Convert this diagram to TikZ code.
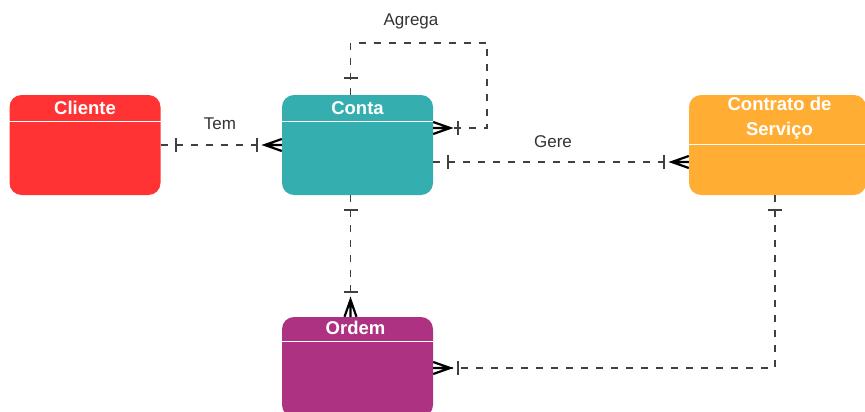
\documentclass[tikz,border=0pt]{standalone}
\usepackage{fontspec}
\setmainfont{Liberation Sans}
\usetikzlibrary{calc}
\definecolor{cred}{HTML}{FF3333}
\definecolor{cteal}{HTML}{35AEB0}
\definecolor{corange}{HTML}{FFAD33}
\definecolor{cpurple}{HTML}{AD3382}
\definecolor{linegray}{HTML}{404040}
\definecolor{labelgray}{HTML}{333333}
\tikzset{
  entity/.style={rounded corners=12pt, inner sep=0pt, draw=none, minimum width=151pt, minimum height=100pt},
  ttl/.style={text=white, font=\bfseries\fontsize{18.5}{25}\selectfont, inner sep=0pt, align=center},
  hdr/.style={draw=white, line width=1pt},
  rel/.style={draw=linegray, line width=1.8pt, dash pattern=on 7pt off 8pt},
  barmk/.style={draw=linegray, line width=1.8pt},
  crow/.style={draw=black, line width=2.2pt, line join=miter},
  lbl/.style={text=labelgray, font=\fontsize{17}{20}\selectfont, inner sep=0pt}
}
\begin{document}
\begin{tikzpicture}[x=1pt,y=-1pt]
\clip (0,0) rectangle (865,412);
\fill[white] (0,0) rectangle (865,412);
% entities
\node[entity, fill=cred] (cliente) at (85,145) {};
\node[entity, fill=cteal] (conta) at (357.5,145) {};
\node[entity, fill=corange, minimum width=177pt] (contrato) at (777.5,145) {};
\node[entity, fill=cpurple] (ordem) at (357.5,367) {};
% header lines
\draw[hdr] ($(cliente.north west)+(0,27)$) -- ($(cliente.north east)+(0,27)$);
\draw[hdr] ($(conta.north west)+(0,27)$) -- ($(conta.north east)+(0,27)$);
\draw[hdr] ($(contrato.north west)+(0,50)$) -- ($(contrato.north east)+(0,50)$);
\draw[hdr] ($(ordem.north west)+(0,25)$) -- ($(ordem.north east)+(0,25)$);
% titles
\node[ttl] (clienteT) at ($(cliente.north)+(0,13)$) {Cliente};
\node[ttl] (contaT) at ($(conta.north)+(0,13)$) {Conta};
\node[ttl] (contratoT) at ($(contrato.north)+(2,23)$) {Contrato de\\Serviço};
\node[ttl] (ordemT) at ($(ordem.north)+(-2,11)$) {Ordem};
% relationship labels
\node[lbl] (temL) at (220,124) {Tem};
\node[lbl] (agregaL) at (411,21) {Agrega};
\node[lbl] (gereL) at (553,142) {Gere};
% --- Tem: Cliente -> Conta
\draw[rel] (cliente.east) -- (conta.west);
\draw[barmk] ($(cliente.east)+(15,-7)$) -- ($(cliente.east)+(15,7)$);
\draw[barmk] ($(conta.west)+(-25,-7)$) -- ($(conta.west)+(-25,7)$);
\draw[crow] ($(conta.west)+(0,-6)$) -- ($(conta.west)+(-17,0)$) -- ($(conta.west)+(0,6)$)
            ($(conta.west)+(-17,0)$) -- (conta.west);
% --- Agrega: Conta -> Conta
\coordinate (agS) at ($(conta.north)+(-7,0)$);
\coordinate (agC) at ($(conta.north east)+(54,-52)$);
\coordinate (agE) at ($(conta.east)+(0,-17)$);
\draw[rel] (agS) |- (agC) |- (agE);
\draw[barmk] ($(agS)+(-7,-17)$) -- ($(agS)+(7,-17)$);
\draw[barmk] ($(agE)+(25,-7)$) -- ($(agE)+(25,7)$);
\draw[crow] ($(agE)+(0,-6)$) -- ($(agE)+(17,0)$) -- ($(agE)+(0,6)$)
            ($(agE)+(17,0)$) -- (agE);
% --- Gere: Conta -> Contrato
\coordinate (geS) at ($(conta.east)+(0,17)$);
\coordinate (geE) at ($(contrato.west)+(0,17)$);
\draw[rel] (geS) -- (geE);
\draw[barmk] ($(geS)+(15,-7)$) -- ($(geS)+(15,7)$);
\draw[barmk] ($(geE)+(-25,-7)$) -- ($(geE)+(-25,7)$);
\draw[crow] ($(geE)+(0,-6)$) -- ($(geE)+(-17,0)$) -- ($(geE)+(0,6)$)
            ($(geE)+(-17,0)$) -- (geE);
% --- Conta -> Ordem
\coordinate (coS) at ($(conta.south)+(-7,0)$);
\coordinate (coE) at ($(ordem.north)+(-7,0)$);
\draw[rel] (coS) -- (coE);
\draw[barmk] ($(coS)+(-7,15)$) -- ($(coS)+(7,15)$);
\draw[barmk] ($(coE)+(-7,-25)$) -- ($(coE)+(7,-25)$);
\draw[crow] ($(coE)+(-6,0)$) -- ($(coE)+(0,-17)$) -- ($(coE)+(6,0)$)
            ($(coE)+(0,-17)$) -- (coE);
% --- Contrato -> Ordem
\coordinate (orS) at ($(contrato.south)+(-2.5,0)$);
\coordinate (orE) at ($(ordem.east)+(0,1)$);
\draw[rel] (orS) |- (orE);
\draw[barmk] ($(orS)+(-7,15)$) -- ($(orS)+(7,15)$);
\draw[barmk] ($(orE)+(25,-7)$) -- ($(orE)+(25,7)$);
\draw[crow] ($(orE)+(0,-6)$) -- ($(orE)+(17,0)$) -- ($(orE)+(0,6)$)
            ($(orE)+(17,0)$) -- (orE);
\end{tikzpicture}
\end{document}
